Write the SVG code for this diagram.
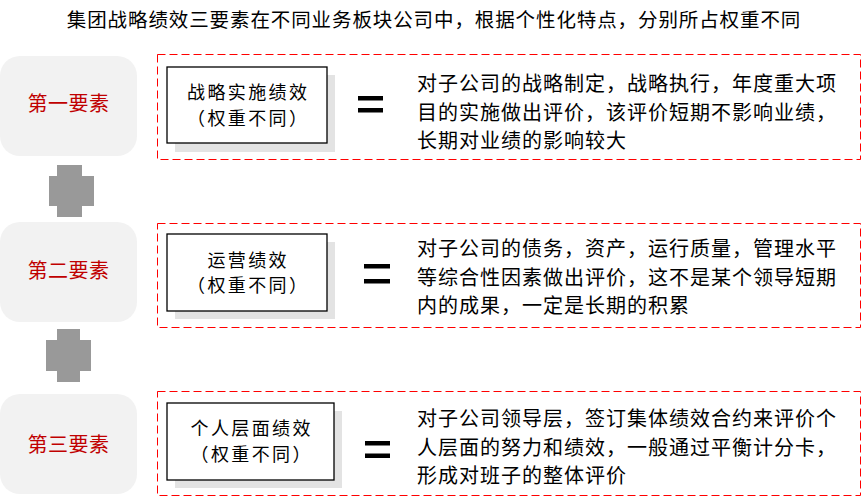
<svg xmlns="http://www.w3.org/2000/svg" width="867" height="501" viewBox="0 0 867 501">
<style>
text{font-family:"Noto Sans CJK SC","Microsoft YaHei",sans-serif;font-size:20px;fill:#000}
.title{font-size:19.5px;letter-spacing:0.9px}
.lab{fill:#c00000;text-anchor:middle;letter-spacing:0.5px}
.inner{text-anchor:middle;font-size:18px;letter-spacing:2.4px}
.desc{letter-spacing:1px}
.grey{fill:#f2f2f2}
.dash{fill:none;stroke:#ff0000;stroke-width:1;stroke-dasharray:8 4}
.shadow{fill:#e3e3e3}
.box{fill:#fff;stroke:#000;stroke-width:1.3}
.eq{fill:#000}
.plus{fill:#999999}
</style>
<rect width="867" height="501" fill="#fff"/>
<text class="title" x="434" y="27" text-anchor="middle">集团战略绩效三要素在不同业务板块公司中，根据个性化特点，分别所占权重不同</text>

<g id="connectors">
<polygon class="plus" points="57,165 82,165 82,176 94,176 94,206 82,206 82,217 57,217 57,206 49,206 49,176 57,176"/>
<polygon class="plus" points="57,329 80,329 80,340 91,340 91,371 80,371 80,382 57,382 57,371 46,371 46,340 57,340"/>
</g>

<g id="element1">
<rect class="grey" x="0" y="56" width="137" height="100" rx="20"/>
<text class="lab" x="68.5" y="110.5">第一要素</text>
</g>
<g id="row1">
<rect class="dash" x="157.5" y="54.5" width="703" height="105"/>
<rect class="shadow" x="175" y="75" width="160" height="77"/>
<rect class="box" x="167" y="67" width="160" height="76"/>
<text class="inner" x="248.2" y="98.8">战略实施绩效</text>
<text class="inner" x="248.2" y="124.8">（权重不同）</text>
<rect class="eq" x="358" y="96" width="25" height="4.5"/>
<rect class="eq" x="358" y="108" width="25" height="4.5"/>
<text class="desc" x="417" y="90.5">对子公司的战略制定，战略执行，年度重大项</text>
<text class="desc" x="417" y="119.5">目的实施做出评价，该评价短期不影响业绩，</text>
<text class="desc" x="417" y="147.5">长期对业绩的影响较大</text>
</g>

<g id="element2">
<rect class="grey" x="0" y="222" width="137" height="100" rx="20"/>
<text class="lab" x="68.5" y="277.5">第二要素</text>
</g>
<g id="row2">
<rect class="dash" x="157.5" y="223.5" width="703" height="104"/>
<rect class="shadow" x="175" y="242" width="160" height="77"/>
<rect class="box" x="167" y="234" width="160" height="77"/>
<text class="inner" x="248.2" y="266.8">运营绩效</text>
<text class="inner" x="248.2" y="292.2">（权重不同）</text>
<rect class="eq" x="364" y="264" width="26" height="4.5"/>
<rect class="eq" x="364" y="279" width="26" height="4.5"/>
<text class="desc" x="417" y="255.5">对子公司的债务，资产，运行质量，管理水平</text>
<text class="desc" x="417" y="284.5">等综合性因素做出评价，这不是某个领导短期</text>
<text class="desc" x="417" y="312.5">内的成果，一定是长期的积累</text>
</g>

<g id="element3">
<rect class="grey" x="0" y="394" width="137" height="100" rx="20"/>
<text class="lab" x="68.5" y="451.5">第三要素</text>
</g>
<g id="row3">
<rect class="dash" x="157.5" y="391.5" width="703" height="104"/>
<rect class="shadow" x="175" y="411" width="167" height="77"/>
<rect class="box" x="167" y="403" width="167" height="77"/>
<text class="inner" x="251.7" y="434.8">个人层面绩效</text>
<text class="inner" x="251.7" y="460.8">（权重不同）</text>
<rect class="eq" x="365" y="441" width="25" height="4.5"/>
<rect class="eq" x="365" y="453.5" width="25" height="4.5"/>
<text class="desc" x="417" y="425.5">对子公司领导层，签订集体绩效合约来评价个</text>
<text class="desc" x="417" y="454.5">人层面的努力和绩效，一般通过平衡计分卡，</text>
<text class="desc" x="417" y="482.5">形成对班子的整体评价</text>
</g>
</svg>
